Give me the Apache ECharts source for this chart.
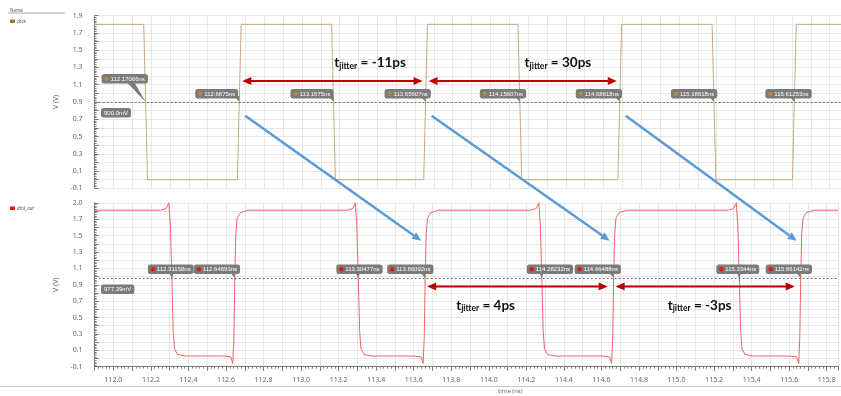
<!DOCTYPE html>
<html>
<head>
<meta charset="utf-8">
<script src="https://cdn.jsdelivr.net/npm/echarts@6/dist/echarts.min.js"></script>
<style>
html,body{margin:0;padding:0;background:#fff}
#c{width:841px;height:396px}
</style>
</head>
<body>
<div id="c"></div>
<script>
// ---- dtck (input clock): 0.9 V crossing times (ns) and edge directions
const clkCross = [112.17066, 112.6675, 113.1675, 113.65607, 114.15607, 114.68618, 115.18618, 115.61253];
const clkDir   = ['F', 'R', 'F', 'R', 'F', 'R', 'F', 'R'];
const clkLevels = [0.0, 1.8];          // low, high (V)
const clkThreshold = 0.9;              // V
const clkEdgeTime = 0.02;              // ns, 0 -> 1.8 V

// ---- dtck_out: 977.39 mV crossing times (ns)
const outCross = [112.31158, 112.64693, 113.30477, 113.66092, 114.28232, 114.66488, 115.3344, 115.66142];
const outDir   = ['F', 'R', 'F', 'R', 'F', 'R', 'F', 'R'];
const outThreshold = 0.97739;
const outHigh = 1.81;
// edge shapes around each crossing: [time offset (ns), V]
const outFallShape = [[-0.06, 1.81], [-0.03, 1.83], [-0.016, 1.9], [-0.008, 1.62], [0, 0.97739], [0.007, 0.34], [0.014, 0.12], [0.03, 0.05], [0.07, 0.03]];
const outRiseShape = [[-0.06, 0.03], [-0.022, 0.02], [-0.011, -0.06], [-0.005, 0.25], [0, 0.97739], [0.005, 1.5], [0.012, 1.71], [0.03, 1.78], [0.07, 1.81]];

// ---- axes
const xRange = [111.9, 115.86];
const yRange = [-0.1, 1.9];
const topTickLabels    = ['-0.1', '0.1', '0.3', '0.5', '0.7', '0.9', '1.1', '1.3', '1.5', '1.7', '1.9'];
const bottomTickLabels = ['-0.1', '0.1', '0.3', '0.5', '0.7', '0.9', '1.1', '1.3', '1.5', '1.7', '2.0'];

// ---- jitter annotations
const jitterTop    = [{from: 112.6675, to: 113.65607, text: ' = -11ps'}, {from: 113.65607, to: 114.68618, text: ' = 30ps'}];
const jitterBottom = [{from: 113.66092, to: 114.66488, text: ' = 4ps'}, {from: 114.66488, to: 115.66142, text: ' = -3ps'}];

const FONT = '"Noto Sans", "DejaVu Sans", sans-serif';

function buildClock() {
  const pts = [[xRange[0], clkDir[0] === 'F' ? clkLevels[1] : clkLevels[0]]];
  clkCross.forEach((t, i) => {
    const from = clkDir[i] === 'F' ? clkLevels[1] : clkLevels[0];
    const to = clkDir[i] === 'F' ? clkLevels[0] : clkLevels[1];
    pts.push([t - clkEdgeTime / 2, from], [t + clkEdgeTime / 2, to]);
  });
  pts.push([xRange[1], clkDir[clkDir.length - 1] === 'F' ? clkLevels[0] : clkLevels[1]]);
  return pts;
}
function buildOut() {
  const pts = [[xRange[0], outHigh]];
  outCross.forEach((t, i) => {
    const shape = outDir[i] === 'F' ? outFallShape : outRiseShape;
    shape.forEach(([dt, v]) => pts.push([+(t + dt).toFixed(5), v]));
  });
  pts.push([xRange[1], outHigh]);
  return pts;
}

const tickIndex = v => Math.round((v - yRange[0]) / 0.1);
function yAxisCfg(gridIndex, labels) {
  return {
    type: 'value', gridIndex, min: yRange[0], max: yRange[1], interval: 0.1,
    name: 'V (V)', nameLocation: 'middle', nameGap: 25, nameRotate: 90,
    nameTextStyle: {fontSize: 7, color: '#666', fontFamily: FONT},
    axisLine: {show: true, lineStyle: {color: '#777', width: 1}},
    axisTick: {show: true, inside: true, length: 4, lineStyle: {color: '#777'}},
    minorTick: {show: true, splitNumber: 5, length: 2, lineStyle: {color: '#888'}},
    axisLabel: {
      margin: 12, fontSize: 7, color: '#666', fontFamily: FONT,
      formatter: v => { const k = tickIndex(v); return k % 2 === 0 ? labels[k / 2] : ''; }
    },
    splitLine: {show: true, lineStyle: {color: '#e6e6e6', width: 1}}
  };
}
function xAxisCfg(gridIndex, showLabels) {
  return {
    type: 'value', gridIndex, min: xRange[0], max: xRange[1], interval: 0.1,
    name: showLabels ? 'time (ns)' : '', nameLocation: 'middle', nameGap: 22,
    nameTextStyle: {fontSize: 6, color: '#666', fontFamily: FONT, padding: [0, 0, 0, 88]},
    axisLine: {show: showLabels, onZero: false, lineStyle: {color: '#777'}},
    axisTick: {show: showLabels, length: 4, lineStyle: {color: '#777'}},
    minorTick: {show: showLabels, splitNumber: 5, length: 2, lineStyle: {color: '#888'}},
    axisLabel: {
      show: showLabels, margin: 10, fontSize: 7, color: '#666', fontFamily: FONT,
      formatter: v => { const k = Math.round(v * 10); return (k % 2 === 0 && Math.abs(v * 10 - k) < 1e-6) ? v.toFixed(1) : ''; }
    },
    splitLine: {show: true, lineStyle: {color: '#e6e6e6', width: 1}}
  };
}

const chart = echarts.init(document.getElementById('c'));
const PXW = (xRange[1] - xRange[0]) * 188.65;
chart.setOption({
  animation: false,
  backgroundColor: '#fff',
  grid: [
    {left: 94.6, top: 15.7, width: PXW, height: 172.6},
    {left: 94.6, top: 202.8, width: PXW, height: 163.9}
  ],
  xAxis: [xAxisCfg(0, false), xAxisCfg(1, true)],
  yAxis: [yAxisCfg(0, topTickLabels), yAxisCfg(1, bottomTickLabels)],
  series: [
    {
      name: 'dtck', type: 'line', xAxisIndex: 0, yAxisIndex: 0, data: buildClock(),
      showSymbol: false, lineStyle: {color: '#caa77c', width: 1}, silent: true,
      markLine: {silent: true, symbol: 'none', label: {show: false},
        lineStyle: {color: '#6f6f6f', type: [2, 2], width: 1}, data: [{yAxis: clkThreshold}]}
    },
    {
      name: 'dtck_out', type: 'line', xAxisIndex: 1, yAxisIndex: 1, data: buildOut(),
      showSymbol: false, lineStyle: {color: '#f26464', width: 1}, silent: true,
      markLine: {silent: true, symbol: 'none', label: {show: false},
        lineStyle: {color: '#6f6f6f', type: [2, 2], width: 1}, data: [{yAxis: outThreshold}]}
    }
  ]
});

// ---- annotation overlay
const toPx = (g, t, v) => chart.convertToPixel({xAxisIndex: g, yAxisIndex: g}, [t, v]);
const TAG_BG = '#7b7b7b';
const g = [];

// tag layout: box left / top relative to the crossing point, tail base offsets
const clkTagLayout = [
  {dx: -44, dy: -28, tail: [-20, -12]}, {dx: -44, dy: -13, tail: [-5, 0]},
  {dx: -43, dy: -13, tail: [-5, 0]}, {dx: -41, dy: -13, tail: [-5, 0]},
  {dx: -40, dy: -13, tail: [-5, 0]}, {dx: -44, dy: -13, tail: [-5, 0]},
  {dx: -43, dy: -13, tail: [-5, 0]}, {dx: -29, dy: -13, tail: [-5, 0]}
];
const outTagLayout = [
  {dx: -24, dy: -14, tail: [-3, 2]}, {dx: -41, dy: -14, tail: [-5, 0]},
  {dx: -22, dy: -14, tail: [-3, 2]}, {dx: -38, dy: -14, tail: [-5, 0]},
  {dx: -15, dy: -14, tail: [-3, 2]}, {dx: -39, dy: -14, tail: [-5, 0]},
  {dx: -23, dy: -14, tail: [-3, 2]}, {dx: -35, dy: -14, tail: [-5, 0]}
];

function tag(p, label, dot, lay) {
  const bx = p[0] + lay.dx, by = p[1] + lay.dy;
  g.push({type: 'polygon', z: 20, shape: {points: [[p[0] + lay.tail[0], by + 7], [p[0] + lay.tail[1], by + 7], [p[0], p[1]]]}, style: {fill: TAG_BG}});
  g.push({type: 'text', z: 21, x: bx, y: by, style: {text: label, fill: '#fff', font: '6px "Liberation Sans", sans-serif',
    backgroundColor: TAG_BG, borderRadius: 2.5, padding: [2, 3, 1.5, 9]}});
  g.push({type: 'circle', z: 22, shape: {cx: bx + 5, cy: by + 4.8, r: 2.2}, style: {fill: dot}});
}
clkCross.forEach((t, i) => tag(toPx(0, t, clkThreshold), t + 'ns', '#b8864a', clkTagLayout[i]));
outCross.forEach((t, i) => tag(toPx(1, t, outThreshold), t + 'ns', '#e01818', outTagLayout[i]));

// threshold value boxes
function valBox(p, label) {
  g.push({type: 'text', z: 21, x: 101, y: p[1] + 6, style: {text: label, fill: '#fff', font: '6px "Liberation Sans", sans-serif',
    backgroundColor: TAG_BG, borderRadius: 2.5, padding: [2, 3, 1.5, 3]}});
}
valBox(toPx(0, xRange[0], clkThreshold), (clkThreshold * 1000).toFixed(1) + 'mV');
valBox(toPx(1, xRange[0], outThreshold), (outThreshold * 1000).toFixed(2) + 'mV');

// double-headed red arrows with t_jitter captions
const RED = '#c00000';
function dblArrow(x1, x2, y) {
  g.push({type: 'line', z: 30, shape: {x1: x1 + 6, y1: y, x2: x2 - 6, y2: y}, style: {stroke: RED, lineWidth: 2}});
  g.push({type: 'polygon', z: 30, shape: {points: [[x1, y], [x1 + 9, y - 4], [x1 + 9, y + 4]]}, style: {fill: RED}});
  g.push({type: 'polygon', z: 30, shape: {points: [[x2, y], [x2 - 9, y - 4], [x2 - 9, y + 4]]}, style: {fill: RED}});
}
function caption(x, y, rest) {
  g.push({type: 'text', z: 31, x, y, style: {
    text: '{t|t}{s|jitter}{t|' + rest + '}', verticalAlign: 'middle',
    rich: {
      t: {font: 'bold 13.5px Lato, "Liberation Sans", sans-serif', fill: '#111'},
      s: {font: 'bold 8.5px Lato, "Liberation Sans", sans-serif', fill: '#111', verticalAlign: 'bottom', padding: [6, 0, 0, 0]}
    }}});
}
const jTopV = 1.143, jTopCapV = 1.352;
jitterTop.forEach((j, i) => {
  const a = toPx(0, j.from, jTopV), b = toPx(0, j.to, jTopV);
  dblArrow(a[0] + 3, b[0] - 3, a[1]);
  caption(i === 0 ? a[0] + 95 : a[0] + 99, toPx(0, j.from, jTopCapV)[1], j.text);
});
const jBotV = 0.879;
jitterBottom.forEach((j, i) => {
  const a = toPx(1, j.from, jBotV), b = toPx(1, j.to, jBotV);
  dblArrow(a[0] + 2, b[0] - 6, a[1]);
  caption(i === 0 ? a[0] + 31 : a[0] + 54, a[1] + 19, j.text);
});

// blue arrows: each clock rising edge to the following dtck_out rising edge
const BLUE = '#5b9bd5';
const clkRise = clkCross.filter((t, i) => clkDir[i] === 'R');
const outRise = outCross.filter((t, i) => outDir[i] === 'R');
clkRise.slice(0, 3).forEach((t, i) => {
  const s = toPx(0, t, 0.74), e = toPx(1, outRise[i + 1], 1.437);
  const x1 = s[0] + 6, y1 = s[1], x2 = e[0] - 4, y2 = e[1];
  const ang = Math.atan2(y2 - y1, x2 - x1), L = 9, W = 4;
  const bx = x2 - L * Math.cos(ang), by = y2 - L * Math.sin(ang);
  g.push({type: 'line', z: 30, shape: {x1, y1, x2: bx, y2: by}, style: {stroke: BLUE, lineWidth: 2.5}});
  g.push({type: 'polygon', z: 30, shape: {points: [[x2, y2],
    [bx + W * Math.sin(ang), by - W * Math.cos(ang)], [bx - W * Math.sin(ang), by + W * Math.cos(ang)]]}, style: {fill: BLUE}});
});

// name column
g.push({type: 'text', x: 10, y: 8, style: {text: 'Name', fill: '#555', font: '4.5px ' + FONT}});
g.push({type: 'line', shape: {x1: 8, y1: 13, x2: 65, y2: 13}, style: {stroke: '#888', lineWidth: 0.7}});
g.push({type: 'rect', shape: {x: 10, y: 19.5, width: 5, height: 3.5}, style: {fill: '#a8783c'}});
g.push({type: 'text', x: 17, y: 19, style: {text: 'dtck', fill: '#555', font: '4.5px ' + FONT}});
g.push({type: 'rect', shape: {x: 10, y: 206.5, width: 5, height: 3.5}, style: {fill: '#e41a1a'}});
g.push({type: 'text', x: 17, y: 206, style: {text: 'dtck_out', fill: '#555', font: 'italic 4.5px ' + FONT}});
g.push({type: 'line', shape: {x1: 0, y1: 386.5, x2: 841, y2: 386.5}, style: {stroke: '#c8c8c8', lineWidth: 1}});

chart.setOption({graphic: g});
</script>
</body>
</html>
